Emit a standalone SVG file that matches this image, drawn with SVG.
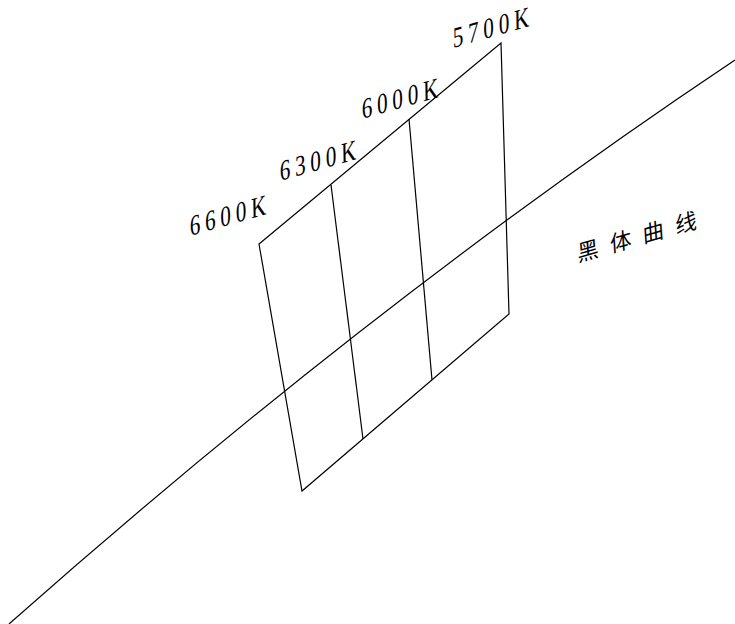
<svg xmlns="http://www.w3.org/2000/svg" width="735" height="624" viewBox="0 0 735 624">
  <style>
    .ln { fill: none; stroke: #000; stroke-width: 1.2; stroke-linejoin: miter; }
    .lbl { font-family: "Liberation Serif", "Noto Sans CJK SC", serif; font-size: 28px; letter-spacing: 6.4px; fill: #000; }
    .cn { font-family: "Noto Sans CJK SC", "Liberation Serif", sans-serif; font-size: 22px; letter-spacing: 12px; fill: #000; }
  </style>
  <rect width="735" height="624" fill="#fff"/>
  <g id="curve">
    <path class="ln" d="M9,624 Q372.5,302 735,60"/>
  </g>
  <g id="grid">
    <path class="ln" d="M259,244 L501,43 L509,314 L302,491 Z"/>
    <path class="ln" d="M331,185 L363,439"/>
    <path class="ln" d="M409,119 L432,380"/>
  </g>
  <g id="labels">
    <text class="lbl" transform="translate(190,236) rotate(-16) skewX(-15) scale(0.78,1)">6600K</text>
    <text class="lbl" transform="translate(280,181) rotate(-16) skewX(-15) scale(0.78,1)">6300K</text>
    <text class="lbl" transform="translate(362,119) rotate(-16) skewX(-15) scale(0.78,1)">6000K</text>
    <text class="lbl" transform="translate(453,48) rotate(-16) skewX(-15) scale(0.78,1)">5700K</text>
    <text class="cn" transform="translate(578,262) rotate(-16) skewX(-12)">黑体曲线</text>
  </g>
</svg>
